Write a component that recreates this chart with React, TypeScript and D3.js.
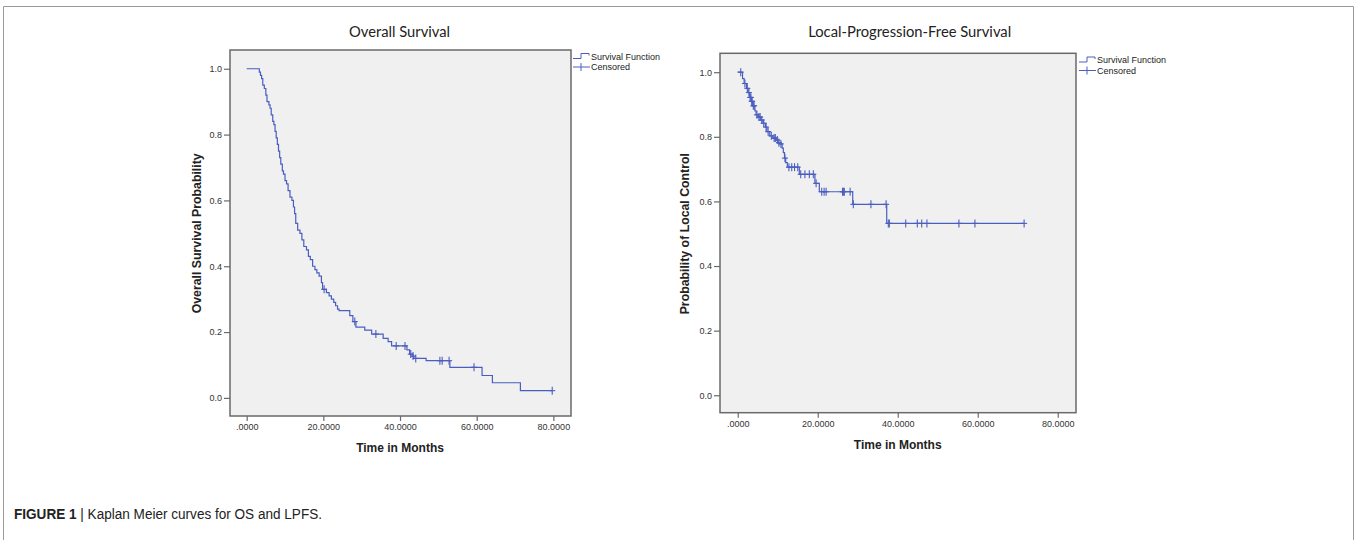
import React, { useEffect, useRef } from "react";
import * as d3 from "d3";

// Overall survival: time (months) of each drop and survival right after it
const osDropTimes = [
  3.3, 3.6, 3.9, 4.2, 4.6, 5.0, 5.3, 5.8, 6.1, 6.4, 6.8, 7.1, 7.4, 7.7, 8.0, 8.3, 8.6, 8.9,
  9.3, 9.6, 10.0, 10.4, 10.8, 11.3, 11.8, 12.2, 12.5, 12.8, 13.3, 13.9, 14.4, 14.9, 15.6,
  16.1, 16.6, 17.2, 17.8, 18.3, 18.9, 19.5, 19.8, 20.8, 21.5, 22.1, 22.7, 23.2, 23.7, 24.1,
  26.9, 27.7, 28.5, 30.8, 32.6, 35.6, 36.9, 37.8, 41.8, 42.5, 43.2, 43.6, 46.8, 53.0, 61.4,
  64.1, 71.4,
];
const osDropSurv = [
  0.99, 0.98, 0.97, 0.95, 0.94, 0.92, 0.9, 0.89, 0.88, 0.86, 0.84, 0.83, 0.81, 0.79, 0.77,
  0.75, 0.73, 0.71, 0.69, 0.68, 0.66, 0.65, 0.63, 0.61, 0.6, 0.58, 0.56, 0.53, 0.51, 0.5,
  0.48, 0.46, 0.45, 0.43, 0.42, 0.4, 0.39, 0.38, 0.37, 0.35, 0.33, 0.32, 0.31, 0.3, 0.29,
  0.28, 0.27, 0.265, 0.25, 0.232, 0.215, 0.206, 0.194, 0.181, 0.171, 0.158, 0.146, 0.133,
  0.127, 0.12, 0.113, 0.093, 0.068, 0.046, 0.022,
];
const osCensorTimes = [20.2, 28.2, 33.7, 39.0, 41.3, 42.8, 43.4, 44.1, 50.4, 51.0, 52.8, 59.3, 79.7];

// Local-progression-free survival
const lpfsDropTimes = [
  1.2, 1.6, 2.2, 2.6, 3.0, 3.4, 3.7, 4.3, 4.6, 5.1, 5.8, 6.3, 6.9, 7.3, 8.0, 8.8, 9.6, 10.1,
  10.6, 11.1, 11.4, 11.7, 12.0, 12.4, 15.4, 19.3, 20.4, 28.75, 37.25,
];
const lpfsDropSurv = [
  0.98, 0.965, 0.95, 0.937, 0.922, 0.91, 0.896, 0.88, 0.868, 0.861, 0.852, 0.842, 0.83,
  0.816, 0.803, 0.796, 0.79, 0.782, 0.778, 0.765, 0.751, 0.734, 0.72, 0.706, 0.684, 0.656,
  0.63, 0.591, 0.532,
];
const lpfsCensorTimes = [
  0.75, 1.8, 2.4, 2.8, 3.1, 3.3, 3.5, 3.6, 3.9, 4.1, 4.8, 5.3, 5.6, 6.0, 6.5, 7.1, 7.6, 8.4,
  9.1, 9.4, 9.9, 10.3, 10.8, 11.8, 12.8, 13.5, 14.2, 15.0, 15.75, 16.8, 17.9, 18.9, 19.6,
  21.0, 21.6, 22.1, 26.2, 26.4, 26.65, 28.1, 28.9, 33.3, 37.1, 37.65, 37.9, 42.0, 44.9, 46.0,
  47.3, 55.3, 59.3, 71.6,
];

const xTickValues = [0, 20, 40, 60, 80];
const xTickLabels = [".0000", "20.0000", "40.0000", "60.0000", "80.0000"];
const yTickValues = [0, 0.2, 0.4, 0.6, 0.8, 1.0];
const yTickLabels = ["0.0", "0.2", "0.4", "0.6", "0.8", "1.0"];
const legendLabels = ["Survival Function", "Censored"];
const panelTitles = ["Overall Survival", "Local-Progression-Free Survival"];
const yAxisTitles = ["Overall Survival Probability", "Probability of Local Control"];
const xAxisTitle = "Time in Months";

const LINE = "#4a5ec0";
const FRAME = "#6a6a6a";

const panels = [
  {
    title: panelTitles[0], yTitle: yAxisTitles[0],
    dropTimes: osDropTimes, dropSurv: osDropSurv, censorTimes: osCensorTimes,
    left: 230, right: 571, top: 50, bottom: 416,
    xDomain: [-4.35, 84.6], yDomain: [-0.055, 1.057],
    titleX: 399.5, titleLen: 101, yTitleX: 201, legendX: 573, legendY: 56.5,
  },
  {
    title: panelTitles[1], yTitle: yAxisTitles[1],
    dropTimes: lpfsDropTimes, dropSurv: lpfsDropSurv, censorTimes: lpfsCensorTimes,
    left: 720, right: 1076, top: 53.3, bottom: 412.7,
    xDomain: [-4.43, 84.57], yDomain: [-0.054, 1.0585],
    titleX: 909.7, titleLen: 203, yTitleX: 689, legendX: 1079, legendY: 60,
  },
];

const survAt = (times, surv, t) => {
  let s = 1;
  times.forEach((d, i) => {
    if (d <= t) s = surv[i];
  });
  return s;
};

const drawPanel = (svg, p) => {
  const g = svg.append("g");
  const x = d3.scaleLinear().domain(p.xDomain).range([p.left, p.right]);
  const y = d3.scaleLinear().domain(p.yDomain).range([p.bottom, p.top]);

  g.append("rect")
    .attr("x", p.left).attr("y", p.top)
    .attr("width", p.right - p.left).attr("height", p.bottom - p.top)
    .attr("fill", "#f0f0f0").attr("stroke", FRAME).attr("stroke-width", 1.5);

  const xAxis = d3.axisBottom(x).tickValues(xTickValues)
    .tickFormat((d, i) => xTickLabels[i]).tickSize(5).tickPadding(3);
  const gx = g.append("g").attr("transform", `translate(0,${p.bottom})`).call(xAxis);
  gx.select(".domain").remove();

  const yAxis = d3.axisLeft(y).tickValues(yTickValues)
    .tickFormat((d, i) => yTickLabels[i]).tickSize(6).tickPadding(2);
  const gy = g.append("g").attr("transform", `translate(${p.left},0)`).call(yAxis);
  gy.select(".domain").remove();

  [gx, gy].forEach((a) => {
    a.selectAll("line").attr("stroke", FRAME).attr("stroke-width", 1.2);
    a.selectAll("text").attr("fill", "#333")
      .style("font-family", "'Liberation Sans', Arial, sans-serif").style("font-size", "9px");
  });

  // title
  g.append("text").attr("x", p.titleX).attr("y", 37).attr("text-anchor", "middle")
    .attr("textLength", p.titleLen).attr("lengthAdjust", "spacingAndGlyphs")
    .style("font-family", "Lato, 'Open Sans', sans-serif").style("font-size", "14.5px")
    .attr("fill", "#222").text(p.title);

  // axis titles
  g.append("text").attr("x", (x(0) + x(80)) / 2).attr("y", p.bottom + 36)
    .attr("text-anchor", "middle")
    .style("font-family", "'Liberation Sans', Arial, sans-serif").style("font-size", "12px")
    .style("font-weight", "bold").attr("fill", "#222").text(xAxisTitle);

  g.append("text")
    .attr("transform", `translate(${p.yTitleX},${(y(0) + y(1)) / 2}) rotate(-90)`)
    .attr("text-anchor", "middle")
    .style("font-family", "'Liberation Sans', Arial, sans-serif").style("font-size", "12.3px")
    .style("font-weight", "bold").attr("fill", "#222").text(p.yTitle);

  // step curve
  const lastT = d3.max(p.censorTimes);
  const pts = [[0, 1]]
    .concat(p.dropTimes.map((t, i) => [t, p.dropSurv[i]]))
    .concat([[lastT, p.dropSurv[p.dropSurv.length - 1]]]);
  const line = d3.line().x((d) => x(d[0])).y((d) => y(d[1])).curve(d3.curveStepAfter);
  g.append("path").datum(pts).attr("d", line)
    .attr("fill", "none").attr("stroke", LINE).attr("stroke-width", 1.2);

  // censor marks
  const cg = g.append("g").attr("stroke", LINE).attr("stroke-width", 1.1);
  p.censorTimes.forEach((t) => {
    const cx = x(t);
    const cy = y(survAt(p.dropTimes, p.dropSurv, t));
    cg.append("line").attr("x1", cx).attr("x2", cx).attr("y1", cy - 4).attr("y2", cy + 4);
    cg.append("line").attr("x1", cx - 3).attr("x2", cx + 3).attr("y1", cy).attr("y2", cy);
  });

  // legend
  const lx = p.legendX;
  const ly = p.legendY;
  g.append("path")
    .attr("d", `M${lx},${ly + 2}H${lx + 8}V${ly - 3}H${lx + 16}V${ly - 1}`)
    .attr("fill", "none").attr("stroke", LINE).attr("stroke-width", 1);
  g.append("line").attr("x1", lx).attr("x2", lx + 17).attr("y1", ly + 10.5).attr("y2", ly + 10.5)
    .attr("stroke", LINE).attr("stroke-width", 1);
  g.append("line").attr("x1", lx + 8).attr("x2", lx + 8).attr("y1", ly + 6.5).attr("y2", ly + 14.5)
    .attr("stroke", LINE).attr("stroke-width", 1);
  legendLabels.forEach((l, i) => {
    g.append("text").attr("x", lx + 18).attr("y", ly + 3.3 + i * 10.5)
      .style("font-family", "'Liberation Sans', Arial, sans-serif").style("font-size", "9px")
      .attr("fill", "#222").text(l);
  });
};

const App = () => {
  const svgRef = useRef(null);

  useEffect(() => {
    const svg = d3.select(svgRef.current);
    svg.selectAll("*").remove();

    svg.append("rect").attr("width", 1357).attr("height", 540).attr("fill", "#fff");
    // outer figure frame
    svg.append("path").attr("d", "M3.5,545V6.5H1353.5V545")
      .attr("fill", "none").attr("stroke", "#9a9a9a").attr("stroke-width", 1);

    panels.forEach((p) => drawPanel(svg, p));

    const cap = svg.append("text").attr("x", 14).attr("y", 519)
      .attr("textLength", 308).attr("lengthAdjust", "spacingAndGlyphs")
      .style("font-family", "'Liberation Sans Narrow', 'Liberation Sans', Arial, sans-serif")
      .style("font-size", "14px").attr("fill", "#222");
    cap.append("tspan").style("font-weight", "bold").text("FIGURE 1");
    cap.append("tspan").text(" | Kaplan Meier curves for OS and LPFS.");
  }, []);

  return (
    <svg
      ref={svgRef}
      width={1357}
      height={540}
      style={{ position: "absolute", left: 0, top: 0 }}
    />
  );
};

export default App;
